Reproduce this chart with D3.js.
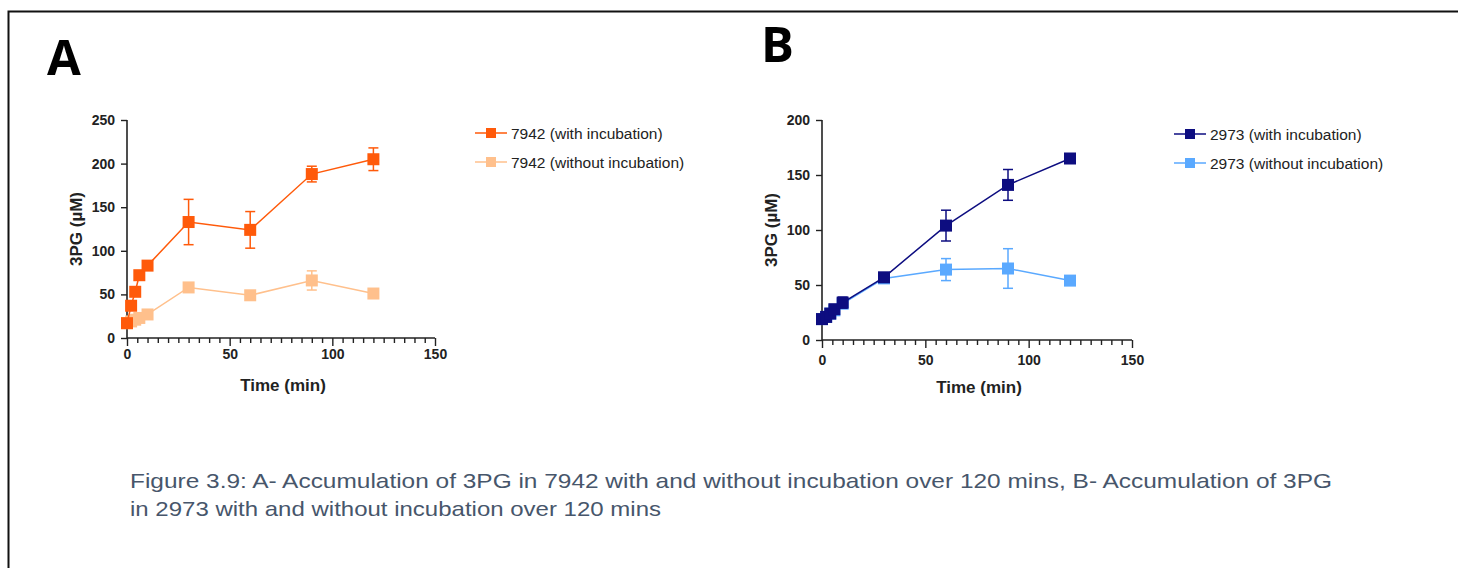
<!DOCTYPE html>
<html>
<head>
<meta charset="utf-8">
<script src="https://cdn.jsdelivr.net/npm/d3@7"></script>
<style>
  body { margin: 0; background: #fff; }
  svg { display: block; font-family: "Liberation Sans", Arial, sans-serif; }
</style>
</head>
<body>
<div id="fig"></div>
<script>
// sampling times (min)
const times = [0, 2, 4, 6, 10, 30, 60, 90, 120];

// panel A - 7942
const a_with = [17, 37, 53, 72, 83, 133, 124, 188, 205];
const a_withErr = [2, 3, 3, 3, 3, 26, 21, 9, 13];
const a_without = [17, 19, 21, 23, 27, 58, 49, 66, 51];
const a_withoutErr = [2, 2, 2, 2, 2, 3, 3, 11, 3];

// panel B - 2973
const b_with = [19, 21, 24, 28, 34, 57, 104, 141, 165];
const b_withErr = [1, 1, 1, 2, 5, 2, 14, 14, 2];
const b_without = [19, 21, 24, 27, 33, 56, 64, 65, 54];
const b_withoutErr = [1, 1, 1, 2, 4, 2, 10, 18, 3];

const xTicks = [0, 50, 100, 150];
const yTicksA = [0, 50, 100, 150, 200, 250];
const yTicksB = [0, 50, 100, 150, 200];

const W = 1458, H = 568;
const svg = d3.select("#fig").append("svg").attr("width", W).attr("height", H);

// page frame (top + left only)
svg.append("path")
  .attr("d", `M8.5,${H} V11.5 H${W}`)
  .attr("fill", "none").attr("stroke", "#111").attr("stroke-width", 2);

function panel(opt) {
  const x = d3.scaleLinear().domain([0, 150]).range(opt.xr);
  const y = d3.scaleLinear().domain(opt.yd).range(opt.yr);
  const g = svg.append("g");

  // y axis
  const ya = g.append("g").attr("transform", `translate(${opt.xr[0]},0)`)
    .call(d3.axisLeft(y).tickValues(opt.yTicks).tickSize(6).tickPadding(6));
  // x axis with minor ticks every 5 min
  const xa = g.append("g").attr("transform", `translate(0,${opt.yr[0]})`)
    .call(d3.axisBottom(x).tickValues(d3.range(0, 151, 5)).tickSize(5)
      .tickFormat((d) => (xTicks.includes(d) ? d : "")));
  xa.selectAll(".tick line").attr("y2", (d) => (xTicks.includes(d) ? 8 : 5));
  xa.selectAll(".tick text").attr("y", opt.tickY);
  [ya, xa].forEach((ax) => {
    ax.select(".domain").attr("stroke", "#222").attr("stroke-width", 1.6)
      .attr("d", ax === ya ? `M0,${opt.yr[0]}V${opt.yr[1]}` : `M${opt.xr[0]},0H${opt.xr[1]}`);
    ax.selectAll(".tick line").attr("stroke", "#222").attr("stroke-width", 1.4);
    ax.selectAll(".tick text").attr("fill", "#222")
      .style("font-size", "14px").style("font-weight", "bold");
  });

  // axis titles
  g.append("text")
    .attr("transform", `translate(${opt.xr[0] - 45},${(opt.yr[0] + opt.yr[1]) / 2}) rotate(-90)`)
    .attr("text-anchor", "middle").attr("fill", "#222")
    .style("font-size", "17px").style("font-weight", "bold").text("3PG (µM)");
  g.append("text")
    .attr("x", (opt.xr[0] + opt.xr[1]) / 2 + 2).attr("y", opt.yr[0] + 53)
    .attr("text-anchor", "middle").attr("fill", "#222")
    .style("font-size", "17px").style("font-weight", "bold").text("Time (min)");

  // series, light one drawn first
  opt.series.slice().reverse().forEach((s) => {
    const pts = times.map((t, i) => ({ t, v: s.values[i], e: s.err[i] }));
    const sg = g.append("g");
    sg.append("path").datum(pts)
      .attr("fill", "none").attr("stroke", s.color).attr("stroke-width", 1.5)
      .attr("d", d3.line().x((d) => x(d.t)).y((d) => y(d.v)));
    const eb = sg.selectAll(".err").data(pts).join("g")
      .attr("stroke", s.color).attr("stroke-width", 1.5);
    eb.append("line").attr("x1", (d) => x(d.t)).attr("x2", (d) => x(d.t))
      .attr("y1", (d) => y(d.v + d.e)).attr("y2", (d) => y(d.v - d.e));
    eb.append("line").attr("x1", (d) => x(d.t) - 5).attr("x2", (d) => x(d.t) + 5)
      .attr("y1", (d) => y(d.v + d.e)).attr("y2", (d) => y(d.v + d.e));
    eb.append("line").attr("x1", (d) => x(d.t) - 5).attr("x2", (d) => x(d.t) + 5)
      .attr("y1", (d) => y(d.v - d.e)).attr("y2", (d) => y(d.v - d.e));
    sg.selectAll("rect").data(pts).join("rect")
      .attr("x", (d) => x(d.t) - 6).attr("y", (d) => y(d.v) - 6)
      .attr("width", 12).attr("height", 12).attr("fill", s.color);
  });

  // legend
  opt.series.forEach((s, i) => {
    const ly = opt.legend[1] + i * 29;
    const lg = svg.append("g");
    lg.append("line").attr("x1", opt.legend[0]).attr("x2", opt.legend[0] + 32)
      .attr("y1", ly).attr("y2", ly).attr("stroke", s.color).attr("stroke-width", 1.5);
    lg.append("rect").attr("x", opt.legend[0] + 11).attr("y", ly - 5)
      .attr("width", 10).attr("height", 10).attr("fill", s.color);
    lg.append("text").attr("x", opt.legend[0] + 36).attr("y", ly + 5.5)
      .attr("fill", "#222").style("font-size", "15.5px").text(s.name);
  });

  // panel letter
  svg.append("text").attr("x", opt.letter[0]).attr("y", opt.letter[1])
    .attr("fill", "#000").style("font-size", "49px").style("font-weight", "bold")
    .style("font-family", "'Open Sans', 'DejaVu Sans', sans-serif").text(opt.label);
}

panel({
  label: "A", letter: [47, 75],
  xr: [127, 435], yd: [0, 250], yr: [338, 120], yTicks: yTicksA, tickY: 11,
  legend: [475, 133],
  series: [
    { name: "7942 (with incubation)", values: a_with, err: a_withErr, color: "#ff5a0a" },
    { name: "7942 (without incubation)", values: a_without, err: a_withoutErr, color: "#ffc08c" },
  ],
});

panel({
  label: "B", letter: [761, 62],
  xr: [822, 1132], yd: [0, 200], yr: [340, 120], yTicks: yTicksB, tickY: 15,
  legend: [1174, 134],
  series: [
    { name: "2973 (with incubation)", values: b_with, err: b_withErr, color: "#0d0d80" },
    { name: "2973 (without incubation)", values: b_without, err: b_withoutErr, color: "#5aa9ff" },
  ],
});

// caption
const caption = [
  "Figure 3.9: A- Accumulation of 3PG in 7942 with and without incubation over 120 mins, B- Accumulation of 3PG",
  "in 2973 with and without incubation over 120 mins",
];
const captionWidths = [1202, 531];
svg.append("g").selectAll("text").data(caption).join("text")
  .attr("x", 130).attr("y", (d, i) => 488 + i * 28)
  .attr("fill", "#47566b").style("font-size", "21px")
  .attr("textLength", (d, i) => captionWidths[i]).attr("lengthAdjust", "spacingAndGlyphs")
  .text((d) => d);
</script>
</body>
</html>
